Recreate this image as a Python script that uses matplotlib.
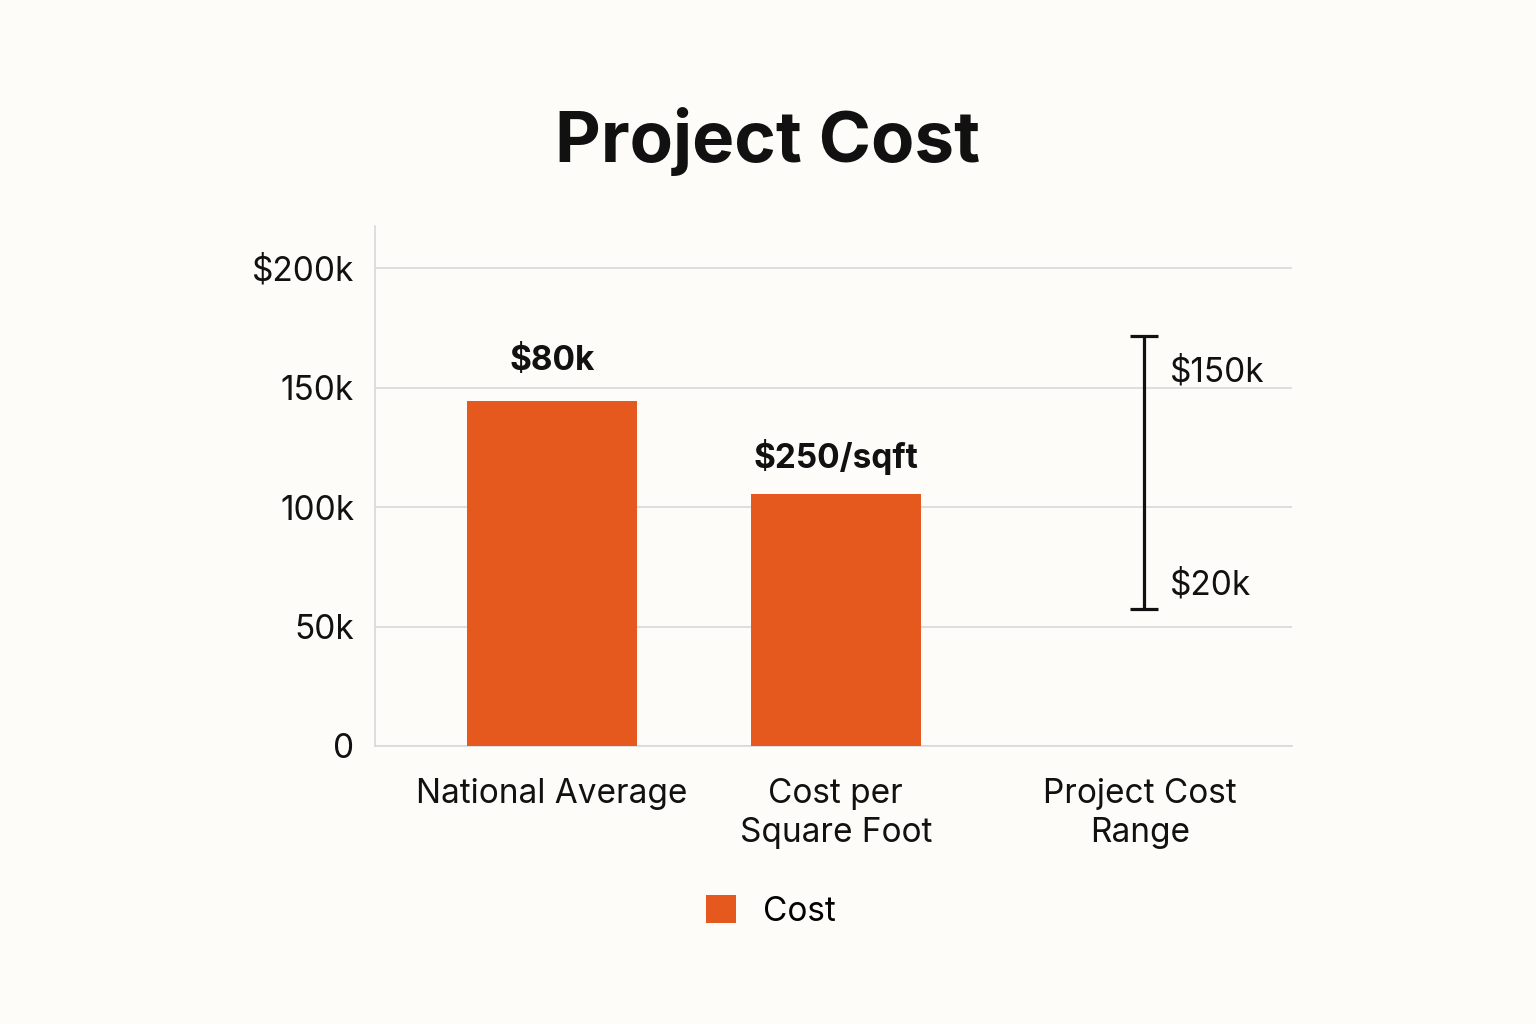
import matplotlib.pyplot as plt
from matplotlib.patches import Patch

plt.rcParams['font.family'] = ['Inter', 'DejaVu Sans']

# data (values in $k)
categories = ["National Average", "Cost per\nSquare Foot", "Project Cost\nRange"]
bar_values = [144.4, 105.4]
bar_labels = ["$80k", "$250/sqft"]
range_extent = [57.3, 171.5]
range_labels = ["$20k", "$150k"]
range_label_y = [67.3, 156.4]
yticks = [0, 50, 100, 150, 200]
ytick_labels = ["0", "50k", "100k", "150k", "$200k"]

bg = "#FDFCF8"
orange = "#E5581E"
grid_c = "#D9D9D9"

fig = plt.figure(figsize=(15.36, 10.24), dpi=100, facecolor=bg)
ax = fig.add_axes([0.2441, 0.2715, 0.5970, 0.5078], facecolor=bg)

xpos = [0, 1, 2.07]
ax.bar(xpos[:2], bar_values, width=0.6, color=orange, zorder=3)
for x, v, lab, off in zip(xpos[:2], bar_values, bar_labels, [17, 14]):
    ax.annotate(lab, (x, v), xytext=(0, off), textcoords="offset points",
                ha="center", va="bottom", fontsize=24, fontweight="bold",
                color="#111111")

# range bar
rx = xpos[2] + 0.015
ax.vlines(rx, range_extent[0], range_extent[1], color="#111111", lw=2.3, zorder=4)
ax.hlines(range_extent, rx - 0.05, rx + 0.05, color="#111111", lw=2.3, zorder=4)
for y, lab in zip(range_label_y, range_labels):
    ax.text(rx + 0.09, y, lab, ha="left", va="center", fontsize=24, color="#111111")

ax.set_xlim(-0.623, 2.606)
ax.set_ylim(0, 217.6)
ax.set_yticks(yticks)
ax.set_yticklabels(ytick_labels)
ax.set_xticks(xpos)
ax.set_xticklabels(categories, linespacing=1.27)
ax.tick_params(axis="y", length=0, pad=15, labelsize=24, labelcolor="#111111")
ax.tick_params(axis="x", length=0, pad=23, labelsize=24, labelcolor="#111111")
ax.grid(axis="y", color=grid_c, lw=1.2, zorder=0)
for s in ["top", "right"]:
    ax.spines[s].set_visible(False)
for s in ["left", "bottom"]:
    ax.spines[s].set_color(grid_c)
    ax.spines[s].set_linewidth(1.2)

fig.text(0.5, 0.862, "Project Cost", ha="center", va="center", fontsize=51,
         fontweight="bold", color="#111111")

fig.legend(handles=[Patch(facecolor=orange, label="Cost")], loc="center",
           bbox_to_anchor=(0.502, 0.11), frameon=False, fontsize=24,
           handlelength=0.9, handleheight=0.9, handletextpad=0.8)

fig.savefig("out.png", dpi=100, facecolor=bg)
